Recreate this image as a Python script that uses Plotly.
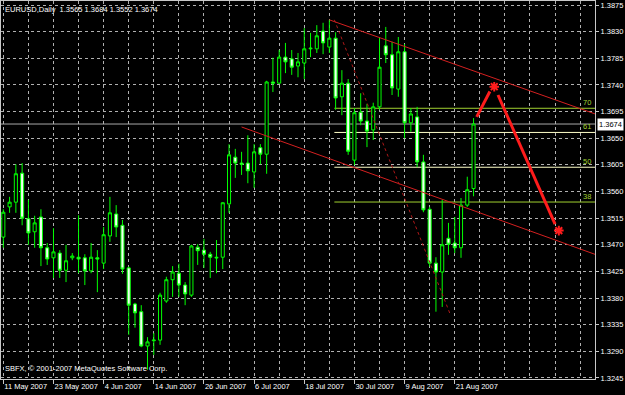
import plotly.graph_objects as go

# ---------------- data ----------------
bars = list(range(76))
opens = [1.3483, 1.3534, 1.3542, 1.3591, 1.3514, 1.3492, 1.3517, 1.3465, 1.3448, 1.3456,
         1.3427, 1.3448, 1.3449, 1.3448, 1.3426, 1.3448, 1.3439, 1.3485, 1.3522, 1.3503,
         1.3431, 1.3370, 1.3357, 1.3299, 1.3308, 1.3309, 1.3375, 1.3411, 1.3422, 1.3402,
         1.3385, 1.3466, 1.3461, 1.3454, 1.3449, 1.3449, 1.3539, 1.3618, 1.3608, 1.3608,
         1.3593, 1.3634, 1.3623, 1.3745, 1.3743, 1.3787, 1.3784, 1.3772, 1.3777, 1.3801,
         1.3801, 1.3831, 1.3804, 1.3819, 1.3720, 1.3743, 1.3613, 1.3694, 1.3679, 1.3664,
         1.3703, 1.3806, 1.3791, 1.3733, 1.3796, 1.3676, 1.3686, 1.3610, 1.3530, 1.3439,
         1.3424, 1.3481, 1.3473, 1.3465, 1.3537, 1.3565]
highs = [1.3530, 1.3551, 1.3606, 1.3608, 1.3546, 1.3519, 1.3530, 1.3473, 1.3498, 1.3461,
         1.3470, 1.3456, 1.3520, 1.3454, 1.3473, 1.3461, 1.3500, 1.3551, 1.3537, 1.3512,
         1.3433, 1.3372, 1.3368, 1.3314, 1.3321, 1.3389, 1.3416, 1.3434, 1.3438, 1.3407,
         1.3470, 1.3471, 1.3480, 1.3458, 1.3478, 1.3542, 1.3640, 1.3632, 1.3627, 1.3655,
         1.3640, 1.3640, 1.3747, 1.3786, 1.3799, 1.3811, 1.3799, 1.3794, 1.3836, 1.3828,
         1.3841, 1.3845, 1.3850, 1.3829, 1.3765, 1.3750, 1.3701, 1.3726, 1.3708, 1.3710,
         1.3821, 1.3838, 1.3813, 1.3821, 1.3809, 1.3701, 1.3703, 1.3622, 1.3534, 1.3449,
         1.3546, 1.3507, 1.3517, 1.3549, 1.3585, 1.3684]
lows = [1.3465, 1.3524, 1.3524, 1.3503, 1.3470, 1.3465, 1.3434, 1.3436, 1.3414, 1.3414,
        1.3407, 1.3444, 1.3422, 1.3402, 1.3422, 1.3390, 1.3429, 1.3475, 1.3483, 1.3421,
        1.3318, 1.3330, 1.3297, 1.3259, 1.3284, 1.3301, 1.3372, 1.3382, 1.3382, 1.3368,
        1.3382, 1.3436, 1.3431, 1.3414, 1.3422, 1.3429, 1.3524, 1.3583, 1.3588, 1.3574,
        1.3566, 1.3606, 1.3590, 1.3728, 1.3742, 1.3760, 1.3757, 1.3753, 1.3750, 1.3787,
        1.3794, 1.3792, 1.3794, 1.3698, 1.3689, 1.3622, 1.3605, 1.3672, 1.3635, 1.3647,
        1.3698, 1.3777, 1.3723, 1.3720, 1.3650, 1.3661, 1.3601, 1.3525, 1.3433, 1.3357,
        1.3365, 1.3453, 1.3456, 1.3448, 1.3534, 1.3552]
closes = [1.3525, 1.3542, 1.3590, 1.3515, 1.3490, 1.3507, 1.3465, 1.3446, 1.3458, 1.3427,
          1.3443, 1.3451, 1.3446, 1.3426, 1.3449, 1.3446, 1.3487, 1.3524, 1.3500, 1.3429,
          1.3368, 1.3355, 1.3299, 1.3306, 1.3309, 1.3385, 1.3411, 1.3424, 1.3402, 1.3387,
          1.3468, 1.3460, 1.3454, 1.3449, 1.3448, 1.3541, 1.3622, 1.3608, 1.3606, 1.3595,
          1.3627, 1.3623, 1.3745, 1.3743, 1.3787, 1.3779, 1.3770, 1.3779, 1.3801, 1.3802,
          1.3823, 1.3811, 1.3819, 1.3718, 1.3743, 1.3628, 1.3693, 1.3679, 1.3662, 1.3703,
          1.3770, 1.3791, 1.3735, 1.3796, 1.3676, 1.3691, 1.3610, 1.3529, 1.3439, 1.3424,
          1.3470, 1.3471, 1.3465, 1.3537, 1.3563, 1.3674]

tick_bars = [0, 8, 16, 24, 32, 40, 48, 56, 64, 72]
tick_labels = ["11 May 2007", "23 May 2007", "4 Jun 2007", "14 Jun 2007", "26 Jun 2007",
               "6 Jul 2007", "18 Jul 2007", "30 Jul 2007", "9 Aug 2007", "21 Aug 2007"]
price_ticks = [1.3245, 1.3290, 1.3335, 1.3380, 1.3425, 1.3470, 1.3515, 1.3560,
               1.3605, 1.3650, 1.3695, 1.3740, 1.3785, 1.3830, 1.3875]

# drawn objects (bar index, price)
upper_x = [52, 94.4]
upper_y = [1.3850, 1.3691]
lower_x = [38.0, 94.6]
lower_y = [1.3669, 1.3453]
fib_x = [52.8, 71.3]
fib_y = [1.3850, 1.3352]
fib_ratios = [0.382, 0.50, 0.618, 0.70]
fib_names = ["38", "50", "61", "70"]
fc_x = [75.5, 77.6, None, 78.9, 88.0]
fc_y = [1.3686, 1.3729, None, 1.3723, 1.3505]
mark_x = [78.3, 88.6]
mark_y = [1.3737, 1.3494]

title_text = "EURUSD,Daily  1.3565 1.3684 1.3552 1.3674"
copyright_text = "SBFX, \u00a9 2001-2007 MetaQuotes Software Corp."

# ---------------- figure ----------------
X_RANGE = [-0.37, 94.37]
Y_RANGE = [1.32433, 1.38818]
FONT = "Liberation Sans"
GRID = "#b0b0b0"
RED = "#ff1c1c"

fig = go.Figure()
fig.add_trace(go.Candlestick(
    x=bars, open=opens, high=highs, low=lows, close=closes,
    increasing=dict(line=dict(color="#00ff00", width=1), fillcolor="#000000"),
    decreasing=dict(line=dict(color="#00ff00", width=1), fillcolor="#f0fff0"),
    whiskerwidth=0, showlegend=False, hoverinfo="skip"))


def extend(xs, ys, x_end):
    slope = (ys[1] - ys[0]) / (xs[1] - xs[0])
    return [xs[0], x_end], [ys[0], ys[0] + slope * (x_end - xs[0])]


for xs, ys in [(upper_x, upper_y), (lower_x, lower_y)]:
    ex, ey = extend(xs, ys, X_RANGE[1] + 2)
    fig.add_trace(go.Scatter(x=ex, y=ey, mode="lines",
                             line=dict(color="#d42020", width=1),
                             showlegend=False, hoverinfo="skip"))

fig.add_trace(go.Scatter(x=fib_x, y=fib_y, mode="lines",
                         line=dict(color="#b01818", width=1, dash="dot"),
                         showlegend=False, hoverinfo="skip"))

fig.add_trace(go.Scatter(x=fc_x, y=fc_y, mode="lines",
                         line=dict(color=RED, width=3),
                         showlegend=False, hoverinfo="skip", connectgaps=False))
fig.add_trace(go.Scatter(x=mark_x, y=mark_y, mode="markers",
                         marker=dict(symbol="asterisk-open", size=8, color=RED,
                                     line=dict(color=RED, width=2)),
                         showlegend=False, hoverinfo="skip"))

shapes = []
annotations = []
fib_colors = {"38": "#a0d030", "50": "#ffffc8", "61": "#ffffc8", "70": "#a0d030"}
for r, name in zip(fib_ratios, fib_names):
    lvl = fib_y[1] + r * (fib_y[0] - fib_y[1])
    col = fib_colors[name]
    shapes.append(dict(type="line", xref="x", yref="y", x0=fib_x[0], x1=X_RANGE[1],
                       y0=lvl, y1=lvl, line=dict(color=col, width=1), layer="between"))
    annotations.append(dict(xref="paper", yref="y", x=1, y=lvl, text=name,
                            xanchor="right", yanchor="bottom", showarrow=False,
                            xshift=-2, yshift=-1,
                            font=dict(family=FONT, size=7.5, color="#a0d030")))

bid = closes[-1]
shapes.append(dict(type="line", xref="paper", yref="y", x0=0, x1=1, y0=bid, y1=bid,
                   line=dict(color="#a8a8a8", width=1), layer="between"))
annotations.append(dict(xref="paper", yref="y", x=1, y=bid, text=f"{bid:.4f}",
                        xanchor="left", yanchor="middle", showarrow=False, xshift=2,
                        bgcolor="#ffffff", borderpad=1,
                        font=dict(family=FONT, size=7.5, color="#000000")))
annotations.append(dict(xref="paper", yref="paper", x=0, y=1, text=title_text,
                        xanchor="left", yanchor="top", showarrow=False, xshift=2, yshift=-2,
                        font=dict(family=FONT, size=7.5, color="#ffffff")))
annotations.append(dict(xref="paper", yref="paper", x=0, y=0, text=copyright_text,
                        xanchor="left", yanchor="bottom", showarrow=False, xshift=2, yshift=4,
                        font=dict(family=FONT, size=7.5, color="#ffffff")))

fig.update_layout(
    width=625, height=395,
    margin=dict(l=1, r=30, t=1, b=16),
    paper_bgcolor="#000000", plot_bgcolor="#000000",
    shapes=shapes, annotations=annotations,
    showlegend=False,
    xaxis=dict(
        range=X_RANGE, rangeslider=dict(visible=False),
        tickmode="array", tickvals=tick_bars, ticktext=tick_labels,
        tickangle=0, ticks="outside", ticklen=4, tickcolor="#c8c8c8",
        ticklabelposition="outside right",
        tickfont=dict(family=FONT, size=7.5, color="#ffffff"),
        showgrid=True, gridcolor=GRID, gridwidth=1, griddash="3px,3px",
        minor=dict(tick0=0, dtick=4, showgrid=True, gridcolor=GRID, gridwidth=1,
                   griddash="3px,3px", ticks=""),
        showline=True, linecolor="#c8c8c8", linewidth=1, mirror=True,
        zeroline=False, fixedrange=True,
    ),
    yaxis=dict(
        range=Y_RANGE, side="right",
        tickmode="array", tickvals=price_ticks,
        ticktext=[f"{p:.4f}" for p in price_ticks],
        ticks="outside", ticklen=3, tickcolor="#c8c8c8",
        tickfont=dict(family=FONT, size=7.5, color="#ffffff"),
        showgrid=True, gridcolor=GRID, gridwidth=1, griddash="3px,3px",
        showline=True, linecolor="#c8c8c8", linewidth=1, mirror=True,
        zeroline=False, fixedrange=True,
    ),
)

fig.write_html("out.html")
